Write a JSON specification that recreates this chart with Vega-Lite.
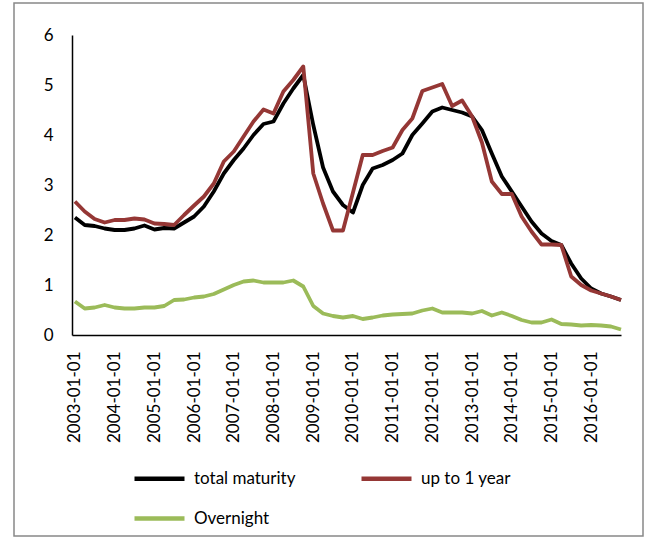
{
  "$schema": "https://vega.github.io/schema/vega-lite/v6.json",
  "width": 629,
  "height": 533,
  "autosize": {"type": "none"},
  "padding": {"left": 14, "top": 3, "right": 7, "bottom": 4},
  "background": "white",
  "config": {
    "view": {"stroke": "#888888", "strokeWidth": 1.5},
    "font": "Lato"
  },
  "data": {
    "values": [
      {"date": "2003/01/01", "total maturity": 2.35, "up to 1 year": 2.67, "Overnight": 0.67},
      {"date": "2003/04/01", "total maturity": 2.2, "up to 1 year": 2.47, "Overnight": 0.53},
      {"date": "2003/07/01", "total maturity": 2.18, "up to 1 year": 2.32, "Overnight": 0.55},
      {"date": "2003/10/01", "total maturity": 2.13, "up to 1 year": 2.25, "Overnight": 0.6},
      {"date": "2004/01/01", "total maturity": 2.1, "up to 1 year": 2.3, "Overnight": 0.55},
      {"date": "2004/04/01", "total maturity": 2.1, "up to 1 year": 2.3, "Overnight": 0.53},
      {"date": "2004/07/01", "total maturity": 2.13, "up to 1 year": 2.33, "Overnight": 0.53},
      {"date": "2004/10/01", "total maturity": 2.19, "up to 1 year": 2.31, "Overnight": 0.55},
      {"date": "2005/01/01", "total maturity": 2.11, "up to 1 year": 2.23, "Overnight": 0.55},
      {"date": "2005/04/01", "total maturity": 2.14, "up to 1 year": 2.22, "Overnight": 0.58},
      {"date": "2005/07/01", "total maturity": 2.13, "up to 1 year": 2.2, "Overnight": 0.7},
      {"date": "2005/10/01", "total maturity": 2.25, "up to 1 year": 2.4, "Overnight": 0.71},
      {"date": "2006/01/01", "total maturity": 2.37, "up to 1 year": 2.59, "Overnight": 0.75},
      {"date": "2006/04/01", "total maturity": 2.57, "up to 1 year": 2.77, "Overnight": 0.77},
      {"date": "2006/07/01", "total maturity": 2.87, "up to 1 year": 3.03, "Overnight": 0.82},
      {"date": "2006/10/01", "total maturity": 3.23, "up to 1 year": 3.47, "Overnight": 0.91},
      {"date": "2007/01/01", "total maturity": 3.5, "up to 1 year": 3.67, "Overnight": 1.0},
      {"date": "2007/04/01", "total maturity": 3.73, "up to 1 year": 3.97, "Overnight": 1.07},
      {"date": "2007/07/01", "total maturity": 4.0, "up to 1 year": 4.27, "Overnight": 1.09},
      {"date": "2007/10/01", "total maturity": 4.22, "up to 1 year": 4.51, "Overnight": 1.05},
      {"date": "2008/01/01", "total maturity": 4.27, "up to 1 year": 4.43, "Overnight": 1.05},
      {"date": "2008/04/01", "total maturity": 4.63, "up to 1 year": 4.87, "Overnight": 1.05},
      {"date": "2008/07/01", "total maturity": 4.93, "up to 1 year": 5.1, "Overnight": 1.09},
      {"date": "2008/10/01", "total maturity": 5.2, "up to 1 year": 5.37, "Overnight": 0.97},
      {"date": "2009/01/01", "total maturity": 4.2, "up to 1 year": 3.23, "Overnight": 0.58},
      {"date": "2009/04/01", "total maturity": 3.35, "up to 1 year": 2.63, "Overnight": 0.43},
      {"date": "2009/07/01", "total maturity": 2.87, "up to 1 year": 2.09, "Overnight": 0.38},
      {"date": "2009/10/01", "total maturity": 2.6, "up to 1 year": 2.09, "Overnight": 0.35},
      {"date": "2010/01/01", "total maturity": 2.45, "up to 1 year": 2.85, "Overnight": 0.38},
      {"date": "2010/04/01", "total maturity": 3.0, "up to 1 year": 3.6, "Overnight": 0.32},
      {"date": "2010/07/01", "total maturity": 3.33, "up to 1 year": 3.6, "Overnight": 0.35},
      {"date": "2010/10/01", "total maturity": 3.4, "up to 1 year": 3.68, "Overnight": 0.39},
      {"date": "2011/01/01", "total maturity": 3.5, "up to 1 year": 3.75, "Overnight": 0.41},
      {"date": "2011/04/01", "total maturity": 3.63, "up to 1 year": 4.1, "Overnight": 0.42},
      {"date": "2011/07/01", "total maturity": 4.0, "up to 1 year": 4.33, "Overnight": 0.43},
      {"date": "2011/10/01", "total maturity": 4.23, "up to 1 year": 4.88, "Overnight": 0.49},
      {"date": "2012/01/01", "total maturity": 4.47, "up to 1 year": 4.95, "Overnight": 0.53},
      {"date": "2012/04/01", "total maturity": 4.55, "up to 1 year": 5.02, "Overnight": 0.45},
      {"date": "2012/07/01", "total maturity": 4.5, "up to 1 year": 4.58, "Overnight": 0.45},
      {"date": "2012/10/01", "total maturity": 4.45, "up to 1 year": 4.69, "Overnight": 0.45},
      {"date": "2013/01/01", "total maturity": 4.37, "up to 1 year": 4.37, "Overnight": 0.43},
      {"date": "2013/04/01", "total maturity": 4.1, "up to 1 year": 3.85, "Overnight": 0.48},
      {"date": "2013/07/01", "total maturity": 3.63, "up to 1 year": 3.07, "Overnight": 0.39},
      {"date": "2013/10/01", "total maturity": 3.17, "up to 1 year": 2.82, "Overnight": 0.45},
      {"date": "2014/01/01", "total maturity": 2.87, "up to 1 year": 2.82, "Overnight": 0.38},
      {"date": "2014/04/01", "total maturity": 2.57, "up to 1 year": 2.37, "Overnight": 0.3},
      {"date": "2014/07/01", "total maturity": 2.27, "up to 1 year": 2.07, "Overnight": 0.25},
      {"date": "2014/10/01", "total maturity": 2.03, "up to 1 year": 1.81, "Overnight": 0.25},
      {"date": "2015/01/01", "total maturity": 1.88, "up to 1 year": 1.81, "Overnight": 0.31},
      {"date": "2015/04/01", "total maturity": 1.8, "up to 1 year": 1.8, "Overnight": 0.22},
      {"date": "2015/07/01", "total maturity": 1.43, "up to 1 year": 1.17, "Overnight": 0.21},
      {"date": "2015/10/01", "total maturity": 1.13, "up to 1 year": 1.0, "Overnight": 0.19},
      {"date": "2016/01/01", "total maturity": 0.93, "up to 1 year": 0.89, "Overnight": 0.2},
      {"date": "2016/04/01", "total maturity": 0.83, "up to 1 year": 0.83, "Overnight": 0.19},
      {"date": "2016/07/01", "total maturity": 0.77, "up to 1 year": 0.77, "Overnight": 0.17},
      {"date": "2016/10/01", "total maturity": 0.7, "up to 1 year": 0.7, "Overnight": 0.11}
    ]
  },
  "transform": [
    {"fold": ["total maturity", "up to 1 year", "Overnight"], "as": ["series", "value"]}
  ],
  "mark": {"type": "line", "strokeWidth": 3.8, "strokeJoin": "round"},
  "encoding": {
    "x": {
      "field": "date",
      "type": "temporal",
      "scale": {
        "domain": [{"year": 2002, "month": 12, "date": 5}, {"year": 2016, "month": 10, "date": 1}],
        "range": [58, 607]
      },
      "axis": {
        "title": null,
        "format": "%Y-%m-%d",
        "tickCount": {"interval": "year", "step": 1},
        "labelAngle": -90,
        "labelFontSize": 17,
        "labelColor": "black",
        "labelPadding": 16,
        "ticks": false,
        "grid": false,
        "domainColor": "black",
        "domainWidth": 1.5,
        "offset": -201,
        "labelFlush": false,
        "labelOverlap": false
      }
    },
    "y": {
      "field": "value",
      "type": "quantitative",
      "scale": {"domain": [0, 6], "range": [332, 32]},
      "axis": {
        "title": null,
        "values": [0, 1, 2, 3, 4, 5, 6],
        "labelFontSize": 17,
        "labelColor": "black",
        "labelPadding": 19,
        "ticks": false,
        "grid": false,
        "domainColor": "black",
        "domainWidth": 1.5,
        "offset": -58
      }
    },
    "color": {
      "field": "series",
      "type": "nominal",
      "sort": ["total maturity", "up to 1 year", "Overnight"],
      "scale": {
        "domain": ["total maturity", "up to 1 year", "Overnight"],
        "range": ["#000000", "#953735", "#9bbb59"]
      },
      "legend": {
        "title": null,
        "orient": "none",
        "legendX": 118,
        "legendY": 448,
        "columns": 2,
        "direction": "horizontal",
        "symbolType": "stroke",
        "symbolSize": 2500,
        "symbolStrokeWidth": 4.5,
        "labelFontSize": 17,
        "labelColor": "black",
        "labelOffset": 7,
        "columnPadding": 56,
        "rowPadding": 3
      }
    }
  }
}
